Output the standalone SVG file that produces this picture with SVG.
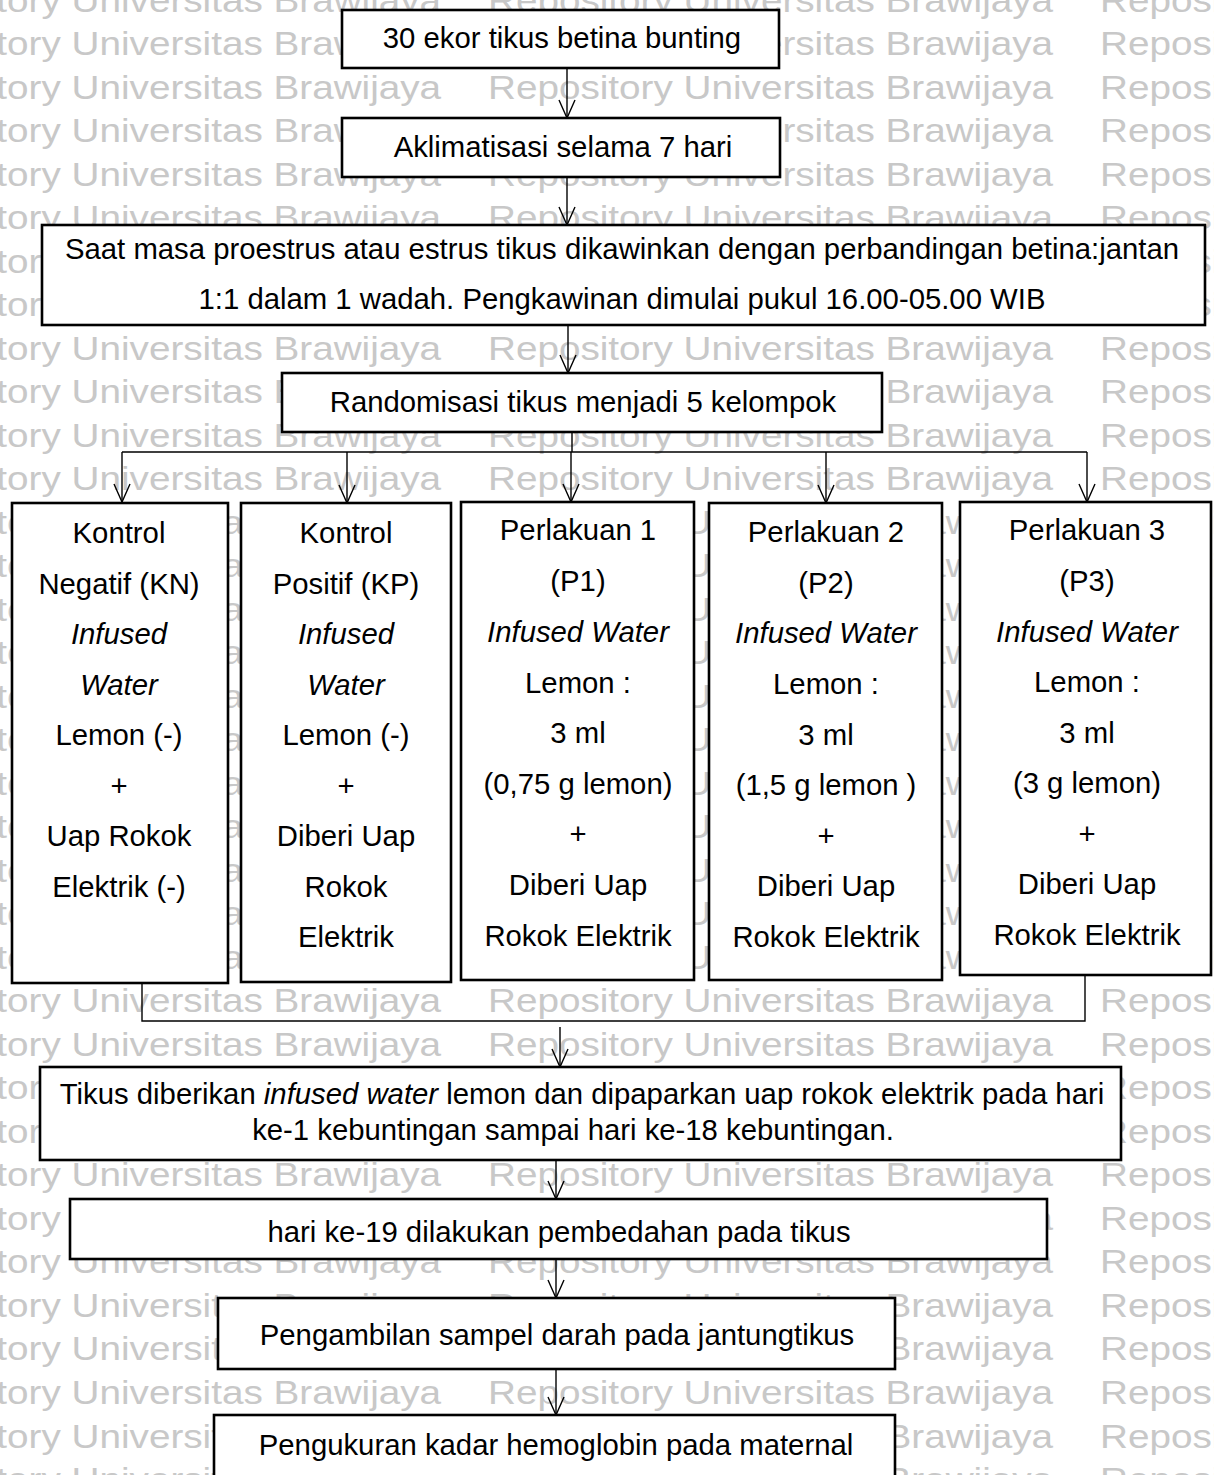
<svg xmlns="http://www.w3.org/2000/svg" width="1214" height="1475" viewBox="0 0 1214 1475">
<style>
.wm{font-family:"Liberation Sans",Arial,sans-serif;font-size:33px;fill:#c8c8c8}
.box{fill:#fff;stroke:#000;stroke-width:2.6}
.t{font-family:"Liberation Sans",Arial,sans-serif;font-size:29.3px;fill:#000;text-anchor:middle}
.i{font-style:italic}
.con{fill:none;stroke:#000;stroke-width:1.4}
</style>
<defs>
<marker id="ah" markerUnits="userSpaceOnUse" markerWidth="24" markerHeight="20" refX="18" refY="8" orient="auto" overflow="visible">
<path d="M0,0 L18,8 L0,16" fill="none" stroke="#000" stroke-width="1.4"/>
</marker>
</defs>
<rect x="0" y="0" width="1214" height="1475" fill="#fff"/>
<g id="watermark" transform="scale(1.172,1)">
<text class="wm" y="12"><tspan x="-105.8">Repository Universitas Brawijaya</tspan><tspan x="416.4">Repository Universitas Brawijaya</tspan><tspan x="938.6">Repository</tspan></text>
<text class="wm" y="55.5"><tspan x="-105.8">Repository Universitas Brawijaya</tspan><tspan x="416.4">Repository Universitas Brawijaya</tspan><tspan x="938.6">Repository</tspan></text>
<text class="wm" y="99"><tspan x="-105.8">Repository Universitas Brawijaya</tspan><tspan x="416.4">Repository Universitas Brawijaya</tspan><tspan x="938.6">Repository</tspan></text>
<text class="wm" y="142.5"><tspan x="-105.8">Repository Universitas Brawijaya</tspan><tspan x="416.4">Repository Universitas Brawijaya</tspan><tspan x="938.6">Repository</tspan></text>
<text class="wm" y="186"><tspan x="-105.8">Repository Universitas Brawijaya</tspan><tspan x="416.4">Repository Universitas Brawijaya</tspan><tspan x="938.6">Repository</tspan></text>
<text class="wm" y="229.5"><tspan x="-105.8">Repository Universitas Brawijaya</tspan><tspan x="416.4">Repository Universitas Brawijaya</tspan><tspan x="938.6">Repository</tspan></text>
<text class="wm" y="273"><tspan x="-105.8">Repository Universitas Brawijaya</tspan><tspan x="416.4">Repository Universitas Brawijaya</tspan><tspan x="938.6">Repository</tspan></text>
<text class="wm" y="316.5"><tspan x="-105.8">Repository Universitas Brawijaya</tspan><tspan x="416.4">Repository Universitas Brawijaya</tspan><tspan x="938.6">Repository</tspan></text>
<text class="wm" y="360"><tspan x="-105.8">Repository Universitas Brawijaya</tspan><tspan x="416.4">Repository Universitas Brawijaya</tspan><tspan x="938.6">Repository</tspan></text>
<text class="wm" y="403.5"><tspan x="-105.8">Repository Universitas Brawijaya</tspan><tspan x="416.4">Repository Universitas Brawijaya</tspan><tspan x="938.6">Repository</tspan></text>
<text class="wm" y="447"><tspan x="-105.8">Repository Universitas Brawijaya</tspan><tspan x="416.4">Repository Universitas Brawijaya</tspan><tspan x="938.6">Repository</tspan></text>
<text class="wm" y="490.5"><tspan x="-105.8">Repository Universitas Brawijaya</tspan><tspan x="416.4">Repository Universitas Brawijaya</tspan><tspan x="938.6">Repository</tspan></text>
<text class="wm" y="534"><tspan x="-105.8">Repository Universitas Brawijaya</tspan><tspan x="416.4">Repository Universitas Brawijaya</tspan><tspan x="938.6">Repository</tspan></text>
<text class="wm" y="577.5"><tspan x="-105.8">Repository Universitas Brawijaya</tspan><tspan x="416.4">Repository Universitas Brawijaya</tspan><tspan x="938.6">Repository</tspan></text>
<text class="wm" y="621"><tspan x="-105.8">Repository Universitas Brawijaya</tspan><tspan x="416.4">Repository Universitas Brawijaya</tspan><tspan x="938.6">Repository</tspan></text>
<text class="wm" y="664.5"><tspan x="-105.8">Repository Universitas Brawijaya</tspan><tspan x="416.4">Repository Universitas Brawijaya</tspan><tspan x="938.6">Repository</tspan></text>
<text class="wm" y="708"><tspan x="-105.8">Repository Universitas Brawijaya</tspan><tspan x="416.4">Repository Universitas Brawijaya</tspan><tspan x="938.6">Repository</tspan></text>
<text class="wm" y="751.5"><tspan x="-105.8">Repository Universitas Brawijaya</tspan><tspan x="416.4">Repository Universitas Brawijaya</tspan><tspan x="938.6">Repository</tspan></text>
<text class="wm" y="795"><tspan x="-105.8">Repository Universitas Brawijaya</tspan><tspan x="416.4">Repository Universitas Brawijaya</tspan><tspan x="938.6">Repository</tspan></text>
<text class="wm" y="838.5"><tspan x="-105.8">Repository Universitas Brawijaya</tspan><tspan x="416.4">Repository Universitas Brawijaya</tspan><tspan x="938.6">Repository</tspan></text>
<text class="wm" y="882"><tspan x="-105.8">Repository Universitas Brawijaya</tspan><tspan x="416.4">Repository Universitas Brawijaya</tspan><tspan x="938.6">Repository</tspan></text>
<text class="wm" y="925.5"><tspan x="-105.8">Repository Universitas Brawijaya</tspan><tspan x="416.4">Repository Universitas Brawijaya</tspan><tspan x="938.6">Repository</tspan></text>
<text class="wm" y="969"><tspan x="-105.8">Repository Universitas Brawijaya</tspan><tspan x="416.4">Repository Universitas Brawijaya</tspan><tspan x="938.6">Repository</tspan></text>
<text class="wm" y="1012.5"><tspan x="-105.8">Repository Universitas Brawijaya</tspan><tspan x="416.4">Repository Universitas Brawijaya</tspan><tspan x="938.6">Repository</tspan></text>
<text class="wm" y="1056"><tspan x="-105.8">Repository Universitas Brawijaya</tspan><tspan x="416.4">Repository Universitas Brawijaya</tspan><tspan x="938.6">Repository</tspan></text>
<text class="wm" y="1099.5"><tspan x="-105.8">Repository Universitas Brawijaya</tspan><tspan x="416.4">Repository Universitas Brawijaya</tspan><tspan x="938.6">Repository</tspan></text>
<text class="wm" y="1143"><tspan x="-105.8">Repository Universitas Brawijaya</tspan><tspan x="416.4">Repository Universitas Brawijaya</tspan><tspan x="938.6">Repository</tspan></text>
<text class="wm" y="1186.5"><tspan x="-105.8">Repository Universitas Brawijaya</tspan><tspan x="416.4">Repository Universitas Brawijaya</tspan><tspan x="938.6">Repository</tspan></text>
<text class="wm" y="1230"><tspan x="-105.8">Repository Universitas Brawijaya</tspan><tspan x="416.4">Repository Universitas Brawijaya</tspan><tspan x="938.6">Repository</tspan></text>
<text class="wm" y="1273.5"><tspan x="-105.8">Repository Universitas Brawijaya</tspan><tspan x="416.4">Repository Universitas Brawijaya</tspan><tspan x="938.6">Repository</tspan></text>
<text class="wm" y="1317"><tspan x="-105.8">Repository Universitas Brawijaya</tspan><tspan x="416.4">Repository Universitas Brawijaya</tspan><tspan x="938.6">Repository</tspan></text>
<text class="wm" y="1360.5"><tspan x="-105.8">Repository Universitas Brawijaya</tspan><tspan x="416.4">Repository Universitas Brawijaya</tspan><tspan x="938.6">Repository</tspan></text>
<text class="wm" y="1404"><tspan x="-105.8">Repository Universitas Brawijaya</tspan><tspan x="416.4">Repository Universitas Brawijaya</tspan><tspan x="938.6">Repository</tspan></text>
<text class="wm" y="1447.5"><tspan x="-105.8">Repository Universitas Brawijaya</tspan><tspan x="416.4">Repository Universitas Brawijaya</tspan><tspan x="938.6">Repository</tspan></text>
<text class="wm" y="1491"><tspan x="-105.8">Repository Universitas Brawijaya</tspan><tspan x="416.4">Repository Universitas Brawijaya</tspan><tspan x="938.6">Repository</tspan></text>
</g>
<g id="connectors">
<path class="con" d="M567,68 V118" marker-end="url(#ah)"/>
<path class="con" d="M567,177 V225" marker-end="url(#ah)"/>
<path class="con" d="M568,325 V373" marker-end="url(#ah)"/>
<path class="con" d="M572,432 V452 M122,452 H1087"/>
<path class="con" d="M122,452 V502" marker-end="url(#ah)"/>
<path class="con" d="M347,452 V503" marker-end="url(#ah)"/>
<path class="con" d="M571,452 V502" marker-end="url(#ah)"/>
<path class="con" d="M826,452 V503" marker-end="url(#ah)"/>
<path class="con" d="M1087,452 V502" marker-end="url(#ah)"/>
<path class="con" d="M142,983 V1021 H1085 V975"/>
<path class="con" d="M560,1027 V1067" marker-end="url(#ah)"/>
<path class="con" d="M556,1160 V1199" marker-end="url(#ah)"/>
<path class="con" d="M556,1259 V1298" marker-end="url(#ah)"/>
<path class="con" d="M556,1369 V1415" marker-end="url(#ah)"/>
</g>
<g id="n1"><rect class="box" x="342" y="10" width="437" height="58"/><text class="t" x="562" y="48">30 ekor tikus betina bunting</text></g>
<g id="n2"><rect class="box" x="342" y="118" width="438" height="59"/><text class="t" x="563" y="157">Aklimatisasi selama 7 hari</text></g>
<g id="n3"><rect class="box" x="42" y="225" width="1163" height="100"/><text class="t" x="622" y="259">Saat masa proestrus atau estrus tikus dikawinkan dengan perbandingan betina:jantan</text><text class="t" x="622" y="309">1:1 dalam 1 wadah. Pengkawinan dimulai pukul 16.00-05.00 WIB</text></g>
<g id="n4"><rect class="box" x="282" y="373" width="600" height="59"/><text class="t" x="583" y="412">Randomisasi tikus menjadi 5 kelompok</text></g>
<g id="kn"><rect class="box" x="12" y="503" width="216" height="480"/>
<text class="t" x="119" y="543">Kontrol</text>
<text class="t" x="119" y="594">Negatif (KN)</text>
<text class="t i" x="119" y="644">Infused</text>
<text class="t i" x="119" y="695">Water</text>
<text class="t" x="119" y="745">Lemon (-)</text>
<text class="t" x="119" y="796">+</text>
<text class="t" x="119" y="846">Uap Rokok</text>
<text class="t" x="119" y="897">Elektrik (-)</text>
</g>
<g id="kp"><rect class="box" x="241" y="503" width="210" height="479"/>
<text class="t" x="346" y="543">Kontrol</text>
<text class="t" x="346" y="594">Positif (KP)</text>
<text class="t i" x="346" y="644">Infused</text>
<text class="t i" x="346" y="695">Water</text>
<text class="t" x="346" y="745">Lemon (-)</text>
<text class="t" x="346" y="796">+</text>
<text class="t" x="346" y="846">Diberi Uap</text>
<text class="t" x="346" y="897">Rokok</text>
<text class="t" x="346" y="947">Elektrik</text>
</g>
<g id="p1"><rect class="box" x="461" y="502" width="233" height="478"/>
<text class="t" x="578" y="540">Perlakuan 1</text>
<text class="t" x="578" y="591">(P1)</text>
<text class="t i" x="578" y="642">Infused Water</text>
<text class="t" x="578" y="693">Lemon :</text>
<text class="t" x="578" y="743">3 ml</text>
<text class="t" x="578" y="794">(0,75 g lemon)</text>
<text class="t" x="578" y="844">+</text>
<text class="t" x="578" y="895">Diberi Uap</text>
<text class="t" x="578" y="946">Rokok Elektrik</text>
</g>
<g id="p2"><rect class="box" x="709" y="503" width="233" height="477"/>
<text class="t" x="826" y="542">Perlakuan 2</text>
<text class="t" x="826" y="593">(P2)</text>
<text class="t i" x="826" y="643">Infused Water</text>
<text class="t" x="826" y="694">Lemon :</text>
<text class="t" x="826" y="745">3 ml</text>
<text class="t" x="826" y="795">(1,5 g lemon )</text>
<text class="t" x="826" y="846">+</text>
<text class="t" x="826" y="896">Diberi Uap</text>
<text class="t" x="826" y="947">Rokok Elektrik</text>
</g>
<g id="p3"><rect class="box" x="960" y="502" width="251" height="473"/>
<text class="t" x="1087" y="540">Perlakuan 3</text>
<text class="t" x="1087" y="591">(P3)</text>
<text class="t i" x="1087" y="642">Infused Water</text>
<text class="t" x="1087" y="692">Lemon :</text>
<text class="t" x="1087" y="743">3 ml</text>
<text class="t" x="1087" y="793">(3 g lemon)</text>
<text class="t" x="1087" y="844">+</text>
<text class="t" x="1087" y="894">Diberi Uap</text>
<text class="t" x="1087" y="945">Rokok Elektrik</text>
</g>
<g id="n5"><rect class="box" x="40" y="1067" width="1081" height="93"/>
<text class="t" x="582" y="1104">Tikus diberikan <tspan class="i">infused water</tspan> lemon dan dipaparkan uap rokok elektrik pada hari</text>
<text class="t" x="573" y="1140">ke-1 kebuntingan sampai hari ke-18 kebuntingan.</text>
</g>
<g id="n6"><rect class="box" x="70" y="1199" width="977" height="60"/><text class="t" x="559" y="1242">hari ke-19 dilakukan pembedahan pada tikus</text></g>
<g id="n7"><rect class="box" x="218" y="1298" width="677" height="71"/><text class="t" x="557" y="1345">Pengambilan sampel darah pada jantungtikus</text></g>
<g id="n8"><rect class="box" x="214" y="1415" width="681" height="80"/><text class="t" x="556" y="1455">Pengukuran kadar hemoglobin pada maternal</text></g>
</svg>
